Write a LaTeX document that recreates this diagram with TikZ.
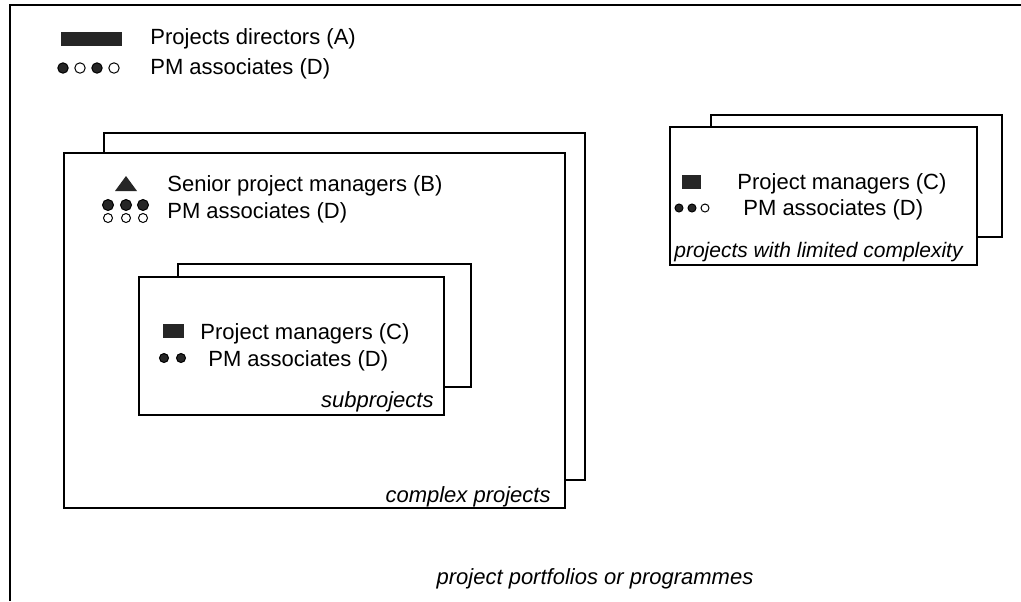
\documentclass[tikz,border=0pt]{standalone}
\usepackage{fontspec}
\setmainfont{Liberation Sans}
\usepackage{tikz}
\usetikzlibrary{positioning}

\begin{document}
\begin{tikzpicture}[
      x=0.5pt, y=-0.5pt,
      frame/.style={line width=1pt},
      card/.style={draw, line width=1pt, fill=white},
      ink/.style={fill=black!85},
      lbl/.style={anchor=base west, inner sep=0pt, font=\fontsize{11}{13}\selectfont},
      tag/.style={anchor=base east, inner sep=0pt, font=\fontsize{11}{13}\selectfont\itshape},
      full/.style={circle, draw, line width=0.5pt, fill=black!85, inner sep=0pt, minimum size=#1},
      hollow/.style={circle, draw, line width=0.5pt, fill=white, inner sep=0pt, minimum size=#1}
    ]
    \path[use as bounding box] (0,0) rectangle (1021,601);

    % outer frame (programmes)
    \draw[frame] (10,601) -- (10,5) -- (1021,5);

    % legend
    \fill[ink] (61,32) rectangle (122,46);
    \node[lbl] (dirA) at (150,44) {Projects directors (A)};
    \foreach \cx/\st [count=\i] in {63,80,97,114}
      \node[\ifodd\i full\else hollow\fi=5.2pt] (leg\i) at (\cx,68) {};
    \node[lbl] (legD) at (150,74) {PM associates (D)};

    % complex projects
    \draw[card] (104,133) rectangle (585,480);
    \draw[card] (64,153) rectangle (565,508);
    \fill[ink] (115,191) -- (126,176) -- (137,191) -- cycle;
    \node[lbl] (senB) at (167,191) {Senior project managers (B)};
    \foreach \cx [count=\i] in {108,126,143} {
      \node[full=5.5pt] (cfull\i) at (\cx,205) {};
      \node[hollow=4.5pt] (chol\i) at (\cx,218) {};
    }
    \node[lbl] (senD) at (167,218) {PM associates (D)};
    \node[tag] (cplxtag) at (551,502) {complex projects};

    % subprojects
    \draw[card] (178,264) rectangle (471,387);
    \draw[card] (139,277) rectangle (444,415);
    \fill[ink] (163,324) rectangle (184,338);
    \node[lbl] (subC) at (200,339) {Project managers (C)};
    \foreach \cx [count=\i] in {164,181}
      \node[full=4.5pt] (sdot\i) at (\cx,358) {};
    \node[lbl] (subD) at (208,366) {PM associates (D)};
    \node[tag] (subtag) at (434,407) {subprojects};

    % projects with limited complexity
    \draw[card] (711,115) rectangle (1002,237);
    \draw[card] (670,127) rectangle (977,265);
    \fill[ink] (682,175) rectangle (701,189);
    \node[lbl] (limC) at (737,189) {Project managers (C)};
    \foreach \cx/\st [count=\i] in {679/full,692/full,705/hollow}
      \node[\st=4pt] (ldot\i) at (\cx,208) {};
    \node[lbl] (limD) at (743,215) {PM associates (D)};
    \node[tag, font=\fontsize{10.5}{13}\selectfont\itshape] (limtag) at (963,257) {projects with limited complexity};

    \node[tag, anchor=base] (porttag) at (595,584) {project portfolios or programmes};
\end{tikzpicture}
\end{document}
